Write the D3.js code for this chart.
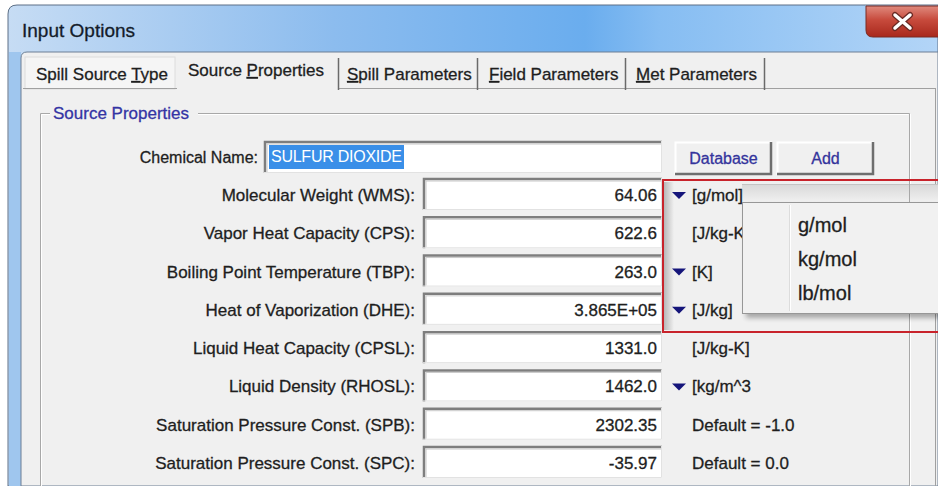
<!DOCTYPE html>
<html>
<head>
<meta charset="utf-8">
<script src="https://cdn.jsdelivr.net/npm/d3@7"></script>
<style>
  body { margin: 0; background: #fff; }
  svg { display: block; font-family: "Liberation Sans", Arial, sans-serif; }
  .lbl { font-size: 17px; fill: #1e1e1e; stroke: #1e1e1e; stroke-width: 0.3px; }
</style>
</head>
<body>
<svg id="dlg"></svg>
<script>
const tabNames = ["Spill Source Type", "Source Properties", "Spill Parameters", "Field Parameters", "Met Parameters"];
const tabKeys = [13, 7, 0, 0, 0];   // index of the underlined (accelerator) letter
const fieldLabels = [
  "Molecular Weight (WMS):", "Vapor Heat Capacity (CPS):", "Boiling Point Temperature (TBP):",
  "Heat of Vaporization (DHE):", "Liquid Heat Capacity (CPSL):", "Liquid Density (RHOSL):",
  "Saturation Pressure Const. (SPB):", "Saturation Pressure Const. (SPC):"
];
const fieldValues = ["64.06", "622.6", "263.0", "3.865E+05", "1331.0", "1462.0", "2302.35", "-35.97"];
const fieldUnits = ["[g/mol]", "[J/kg-K", "[K]", "[J/kg]", "[J/kg-K]", "[kg/m^3", "Default = -1.0", "Default = 0.0"];
const unitMenus = [true, false, true, true, false, true, false, false];
const menuItems = ["g/mol", "kg/mol", "lb/mol"];
const chemicalName = "SULFUR DIOXIDE";
const buttonNames = ["Database", "Add"];

const W = 938, H = 486;
const svg = d3.select('#dlg').attr('width', W).attr('height', H);
const defs = svg.append('defs');

const tg = defs.append('linearGradient').attr('id', 'titleGrad');
[[0, '#c6dcf4'], [0.35, '#8cbcee'], [0.62, '#6aadee'], [0.7, '#86bdf2'], [1, '#b3d5f7']]
  .forEach(([o, c]) => tg.append('stop').attr('offset', o).attr('stop-color', c));
const cg = defs.append('linearGradient').attr('id', 'closeGrad').attr('x1', 0).attr('y1', 0).attr('x2', 0).attr('y2', 1);
[[0, '#e08a7e'], [0.45, '#c74a3c'], [1, '#a8281c']]
  .forEach(([o, c]) => cg.append('stop').attr('offset', o).attr('stop-color', c));
const sg = defs.append('linearGradient').attr('id', 'shadeL');
[[0, '#b8b8b8'], [1, '#f0f0f0']]
  .forEach(([o, c]) => sg.append('stop').attr('offset', o).attr('stop-color', c));
const bg = defs.append('linearGradient').attr('id', 'barGrad').attr('x1', 0).attr('y1', 0).attr('x2', 0).attr('y2', 1);
[[0, '#d8d8d8'], [1, '#f0f0f0']]
  .forEach(([o, c]) => bg.append('stop').attr('offset', o).attr('stop-color', c));
defs.append('filter').attr('id', 'soft').append('feGaussianBlur').attr('stdDeviation', 2.5);

// window frame + title bar
svg.append('path').attr('d', 'M8,486 L8,14 Q8,5 17,5 L938,5 L938,486 Z')
  .attr('fill', 'url(#titleGrad)').attr('stroke', '#5c6f86').attr('stroke-width', 1);
svg.append('rect').attr('x', 9).attr('y', 52).attr('width', 12).attr('height', H - 52).attr('fill', '#9fc6ee');
svg.append('text').attr('x', 22).attr('y', 37).attr('font-size', 19).attr('fill', '#141c2a')
  .attr('stroke', '#141c2a').attr('stroke-width', 0.3).text('Input Options');

// close button
svg.append('path').attr('d', 'M866,6 L940,6 L940,37 L873,37 Q866,37 866,30 Z')
  .attr('fill', 'url(#closeGrad)').attr('stroke', '#7a2a22');
svg.append('path').attr('d', 'M895,15 L910,28 M910,15 L895,28')
  .attr('stroke', '#6a2a24').attr('stroke-width', 6).attr('stroke-linecap', 'round');
svg.append('path').attr('d', 'M895,15 L910,28 M910,15 L895,28')
  .attr('stroke', '#ffffff').attr('stroke-width', 3.5).attr('stroke-linecap', 'round');

// client area
svg.append('path').attr('d', 'M21,486 L21,58 Q21,52 27,52 L938,52 L938,486 Z')
  .attr('fill', '#f0f0f0').attr('stroke', '#6c7f95');

// tabs
const tabX = d3.scaleOrdinal().domain(tabNames).range([36, 188, 347, 489, 636]);
const tabSep = [338, 477, 625, 764];
svg.append('rect').attr('x', 25).attr('y', 57).attr('width', 150).attr('height', 32)
  .attr('fill', '#f5f5f5').attr('stroke', '#dcdcdc');
svg.append('path').attr('d', 'M23,88.5 L177,88.5 M339,88.5 L935,88.5 M935.5,88 L935.5,486')
  .attr('stroke', '#a0a0a0').attr('fill', 'none');
svg.selectAll('line.tabsep').data(tabSep).join('line').attr('class', 'tabsep')
  .attr('x1', d => d + 0.5).attr('x2', d => d + 0.5).attr('y1', 58).attr('y2', 90)
  .attr('stroke', '#6a6a6a').attr('stroke-width', 1.5);
const tabText = svg.selectAll('text.tab').data(tabNames).join('text').attr('class', 'lbl tab')
  .attr('x', d => tabX(d)).attr('y', (d, i) => i === 1 ? 76 : 80);
tabText.each(function (d, i) {
  const t = d3.select(this), k = tabKeys[i];
  t.append('tspan').text(d.slice(0, k));
  t.append('tspan').attr('text-decoration', 'underline').text(d[k]);
  t.append('tspan').text(d.slice(k + 1));
});

// group box
svg.append('path').attr('d', 'M40.5,486 L40.5,113.5 L50,113.5 M198,113.5 L909.5,113.5 L909.5,486')
  .attr('fill', 'none').attr('stroke', '#a8a8a8');
svg.append('path').attr('d', 'M41.5,486 L41.5,114.5 L50,114.5 M198,114.5 L908.5,114.5 M910.5,114 L910.5,486')
  .attr('fill', 'none').attr('stroke', '#ffffff');
svg.append('text').attr('class', 'lbl').attr('x', 53).attr('y', 119)
  .style('fill', '#3434a4').style('stroke', '#3434a4').text('Source Properties');

function sunken(x, y, w, h) {
  const g = svg.append('g');
  g.append('rect').attr('x', x).attr('y', y).attr('width', w).attr('height', h).attr('fill', '#fff');
  g.append('path').attr('d', `M${x + 1},${y + h} L${x + 1},${y + 1} L${x + w},${y + 1}`)
    .attr('fill', 'none').attr('stroke', '#7e7e7e').attr('stroke-width', 2.5);
  g.append('path').attr('d', `M${x + 3},${y + h - 1} L${x + 3},${y + 3} L${x + w - 1},${y + 3}`)
    .attr('fill', 'none').attr('stroke', '#c8c8c8').attr('stroke-width', 1);
  g.append('path').attr('d', `M${x},${y + h - 0.5} L${x + w - 0.5},${y + h - 0.5} L${x + w - 0.5},${y}`)
    .attr('fill', 'none').attr('stroke', '#e2e2e2');
  return g;
}

// chemical name
svg.append('text').attr('class', 'lbl').attr('x', 258).attr('y', 163).attr('text-anchor', 'end')
  .style('font-size', '16px').text('Chemical Name:');
sunken(264, 141, 398, 32);
svg.append('rect').attr('x', 269).attr('y', 145).attr('width', 135).attr('height', 24).attr('fill', '#3a8fe8');
svg.append('text').attr('x', 271).attr('y', 162).attr('font-size', 16).attr('fill', '#fff')
  .attr('textLength', 131).text(chemicalName);

// buttons
const btnX = d3.scaleOrdinal().domain(buttonNames).range([675, 777]);
buttonNames.forEach(b => {
  const x = btnX(b), y = 142, w = 97, h = 33;
  svg.append('rect').attr('x', x).attr('y', y).attr('width', w).attr('height', h).attr('fill', '#f0f0f0');
  svg.append('path').attr('d', `M${x + 0.5},${y + h} L${x + 0.5},${y + 0.5} L${x + w},${y + 0.5}`)
    .attr('fill', 'none').attr('stroke', '#ffffff').attr('stroke-width', 2);
  svg.append('path').attr('d', `M${x},${y + h - 1} L${x + w - 1},${y + h - 1} L${x + w - 1},${y}`)
    .attr('fill', 'none').attr('stroke', '#6e6e6e').attr('stroke-width', 2.5);
  svg.append('text').attr('class', 'lbl').attr('x', x + w / 2).attr('y', y + 22).attr('text-anchor', 'middle')
    .style('fill', '#34349c').style('stroke', '#34349c').style('font-size', '16px').text(b);
});

// property rows
const rowY = d3.scalePoint().domain(fieldLabels).range([195, 463]);
fieldLabels.forEach(d => sunken(423, rowY(d) - 17, 239, 32));
svg.selectAll('text.flabel').data(fieldLabels).join('text').attr('class', 'lbl flabel')
  .attr('x', 415).attr('y', d => rowY(d) + 6).attr('text-anchor', 'end').text(d => d);
svg.selectAll('text.fval').data(fieldValues).join('text').attr('class', 'lbl fval')
  .attr('x', 657).attr('y', (d, i) => rowY(fieldLabels[i]) + 6).attr('text-anchor', 'end').text(d => d);

// shadow inside the highlighted area
svg.append('rect').attr('x', 664).attr('y', 182).attr('width', 10).attr('height', 148).attr('fill', 'url(#shadeL)');
svg.append('rect').attr('x', 742).attr('y', 184).attr('width', 196).attr('height', 18).attr('fill', 'url(#barGrad)');
svg.append('line').attr('x1', 742).attr('x2', 938).attr('y1', 184.5).attr('y2', 184.5).attr('stroke', '#c4c4c4');
svg.append('line').attr('x1', 909.5).attr('x2', 909.5).attr('y1', 184).attr('y2', 202).attr('stroke', '#a8a8a8');

svg.selectAll('text.funit').data(fieldUnits).join('text').attr('class', 'lbl funit')
  .attr('x', 692).attr('y', (d, i) => rowY(fieldLabels[i]) + 6).text(d => d);
svg.selectAll('path.tri').data(fieldLabels.filter((d, i) => unitMenus[i])).join('path').attr('class', 'tri')
  .attr('d', d => { const y = rowY(d) - 3; return `M672,${y} L686,${y} L679,${y + 7} Z`; })
  .attr('fill', '#15157a');

// unit popup menu
svg.append('rect').attr('x', 746).attr('y', 206).attr('width', 200).attr('height', 112)
  .attr('fill', '#000').attr('opacity', 0.3).attr('filter', 'url(#soft)');
svg.append('rect').attr('x', 742.5).attr('y', 202.5).attr('width', 200).attr('height', 111)
  .attr('fill', '#f1f1f1').attr('stroke', '#979797');
svg.append('line').attr('x1', 789.5).attr('x2', 789.5).attr('y1', 205).attr('y2', 311).attr('stroke', '#dcdcdc');
svg.append('line').attr('x1', 790.5).attr('x2', 790.5).attr('y1', 205).attr('y2', 311).attr('stroke', '#ffffff');
const menuY = d3.scalePoint().domain(menuItems).range([225, 293]);
svg.selectAll('text.menu').data(menuItems).join('text').attr('class', 'lbl menu')
  .attr('x', 798).attr('y', d => menuY(d) + 7).style('font-size', '20px').text(d => d);

// red highlight frame
svg.append('rect').attr('x', 663).attr('y', 180).attr('width', 290).attr('height', 152)
  .attr('fill', 'none').attr('stroke', '#c8232b').attr('stroke-width', 2);
</script>
</body>
</html>
